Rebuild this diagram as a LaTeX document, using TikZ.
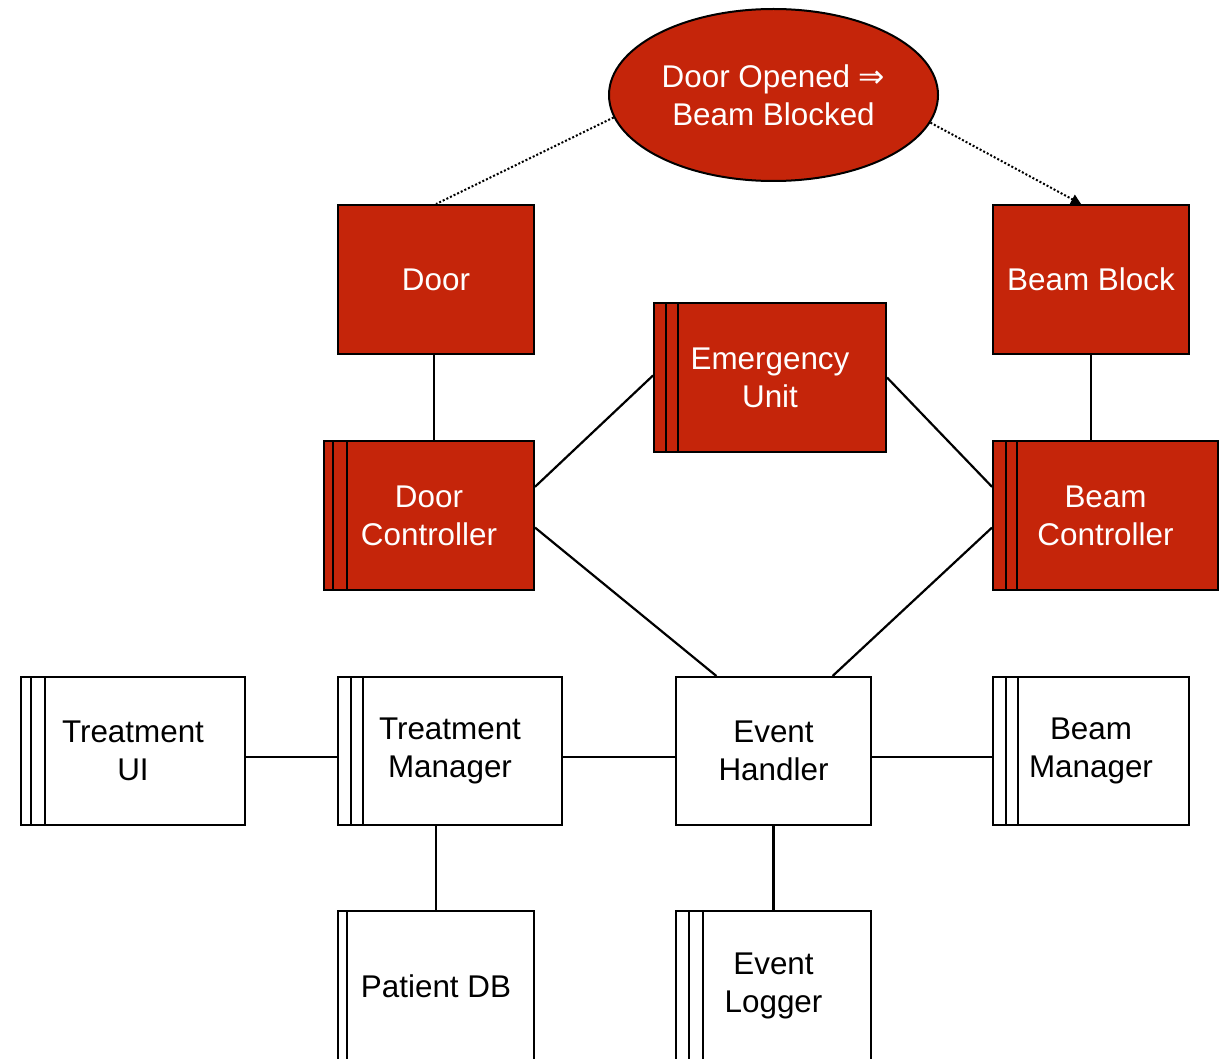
\documentclass[tikz,border=0pt]{standalone}
\usepackage{fontspec}
\setmainfont{Liberation Sans}
\newfontfamily\arrowfont{DejaVu Sans}
\usetikzlibrary{shapes.geometric,calc,arrows.meta}
\definecolor{boxred}{HTML}{C5250A}
\begin{document}
\begin{tikzpicture}[x=0.5pt,y=-0.5pt,line width=1pt,
  lbl/.style={inner sep=0pt,align=center,font=\fontsize{15.7}{19}\selectfont},
  redbox/.style={lbl,rectangle,draw=black,fill=boxred,text=white},
  whitebox/.style={lbl,rectangle,draw=black,fill=white,text=black},
  redell/.style={lbl,ellipse,draw=black,fill=boxred,text=white},
  conn/.style={draw=black,line width=1.1pt},
  dots/.style={draw=black,line width=1pt,dash pattern=on 1pt off 1pt}]
\useasboundingbox (0,0) rectangle (1225,1059);
\clip (0,0) rectangle (1225,1059);
% nodes
\node[redell,minimum width=164.5pt,minimum height=86pt] (ell) at (773.5,95) {Door Opened {\arrowfont ⇒}\\Beam Blocked};
\node[redbox,minimum width=98pt,minimum height=74.5pt] (door) at (436,279.5) {Door};
\node[redbox,minimum width=98pt,minimum height=74.5pt] (bb) at (1091,279.5) {Beam Block};
\node[redbox,minimum width=116pt,minimum height=74.5pt] (eu) at (770,377.5) {Emergency\\Unit};
\node[redbox,minimum width=105pt,minimum height=74.5pt] (dc) at (429,515.5) {Door\\Controller};
\node[redbox,minimum width=112.5pt,minimum height=74.5pt] (bc) at (1105.5,515.5) {Beam\\Controller};
\node[whitebox,minimum width=112pt,minimum height=74pt] (tui) at (133,751) {Treatment\\UI};
\node[whitebox,minimum width=112pt,minimum height=74pt] (tm) at (450,751) {Treatment\\Manager};
\node[whitebox,minimum width=97.5pt,minimum height=74pt] (eh) at (773.5,751) {Event\\Handler};
\node[whitebox,minimum width=98pt,minimum height=74pt] (bm) at (1091,751) {Beam\\Manager};
\node[whitebox,minimum width=98pt,minimum height=75pt] (pdb) at (436,986) {Patient DB};
\node[whitebox,minimum width=97.5pt,minimum height=75pt] (el) at (773.5,986) {Event\\Logger};
% side stripes
\foreach \n/\o in {eu/13,eu/25,dc/10,dc/24,bc/14,bc/25,tui/11,tui/25,tm/14,tm/26,bm/14,bm/26,pdb/10,el/14,el/28}
  \draw ($(\n.north west)+(\o,0)$) -- ($(\n.south west)+(\o,0)$);
% dotted links
\draw[dots] (ell.188) -- (door.north);
\coordinate (bbin) at ($(bb.north west)!0.45!(bb.north east)$);
\draw[dots,-{Triangle[length=5pt,width=5pt]}] (ell.-10) -- (bbin);
% solid links
\draw[conn] ($(door.south)+(-2,0)$) -- ($(door.south |- dc.north)+(-2,0)$);
\draw[conn] (bb.south) -- (bb.south |- bc.north);
\draw[conn] ($(dc.north east)!0.31!(dc.south east)$) -- ($(eu.west)+(0,-2)$);
\draw[conn] ($(dc.north east)!0.58!(dc.south east)$) -- ($(eh.north west)!0.21!(eh.north east)$);
\draw[conn] (eu.east) -- ($(bc.north west)!0.31!(bc.south west)$);
\draw[conn] ($(bc.north west)!0.58!(bc.south west)$) -- ($(eh.north west)!0.8!(eh.north east)$);
\draw[conn] ($(tui.east)+(0,6)$) -- ($(tm.west)+(0,6)$);
\draw[conn] ($(tm.east)+(0,6)$) -- ($(eh.west)+(0,6)$);
\draw[conn] ($(eh.east)+(0,6)$) -- ($(bm.west)+(0,6)$);
\draw[conn] (tm.south -| pdb.north) -- (pdb.north);
\draw[conn] (eh.south) -- (el.north);
\end{tikzpicture}
\end{document}
